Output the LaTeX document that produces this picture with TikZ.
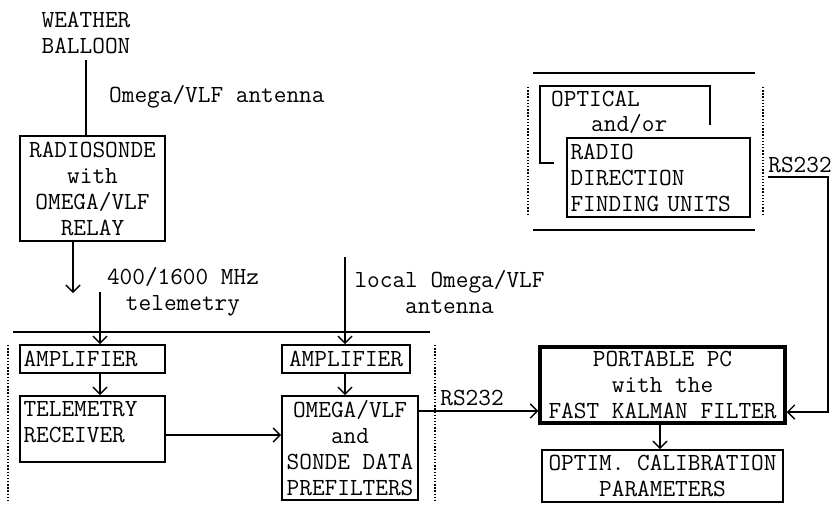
\documentclass[tikz,border=0pt]{standalone}
\usepackage{fontspec}
\usetikzlibrary{arrows.meta,positioning}

\begin{document}
\begin{tikzpicture}[x=0.02cm,y=-0.02cm,>={Straight Barb[length=4pt,width=8pt]},
 font=\ttfamily\fontsize{14}{14.8}\selectfont,
 box/.style={draw,line width=1pt,inner sep=2pt,align=center},
 lbox/.style={box,align=left},
 sep/.style={line width=0.8pt},
 dots/.style={densely dotted,line width=0.8pt}]
\useasboundingbox (0,0) rectangle (837,511);
% sonde side
\node[align=center] (balloon) at (86,33) {WEATHER\\BALLOON};
\node[box,minimum width=2.9cm,minimum height=2.1cm] (sonde) at (92.5,188.5) {RADIOSONDE\\with\\OMEGA/VLF\\RELAY};
\node[anchor=west] (antlbl) at (103,97) {Omega/VLF antenna};
\node[align=center] (tlmlbl) at (183,292) {400/1600 MHz\\telemetry};
\node[align=center] (loclbl) at (449.5,292) {local Omega/VLF\\antenna};
% ground station
\node[lbox,text width=2.76cm,minimum height=0.56cm] (amp1) at (92.5,359) {AMPLIFIER};
\node[lbox,text width=2.76cm,minimum height=1.32cm] (telrx) at (92.5,429) {TELEMETRY\\RECEIVER\\[-7pt]\mbox{}};
\node[box,minimum width=2.56cm,minimum height=0.56cm] (amp2) at (346,359) {AMPLIFIER};
\node[box,minimum width=2.72cm,minimum height=2.08cm] (prefilt) at (350,448) {OMEGA/VLF\\and\\SONDE DATA\\PREFILTERS};
\node[box,line width=2pt,minimum width=4.9cm,minimum height=1.52cm] (pc) at (662.5,385) {PORTABLE PC\\with the\\FAST KALMAN FILTER};
\node[box,minimum width=4.82cm,minimum height=1.04cm] (optim) at (662.5,476) {OPTIM. CALIBRATION\\PARAMETERS};
% direction finding
\node[lbox,text width=3.52cm,minimum height=1.58cm] (radio) at (658.5,177.5) {RADIO\\DIRECTION\\FINDING UNITS};
\node[anchor=base west] (optlbl) at (545,106) {OPTICAL};
\node[anchor=base west] (andor) at (585,131) {and/or};
\node[anchor=base west,inner sep=0pt] (rstop) at (768,172) {RS232};
\node[anchor=base west,inner sep=0pt] (rsbot) at (440,405) {RS232};
\coordinate (tlmtip) at (73,293);
\coordinate (tlmin) at (100,292);
\coordinate (locant) at (345,257);
\coordinate (dfout) at (768,177);
\coordinate (dfcorner) at (828,177);
% frames
\draw[sep] (13,332) -- (430,332);
\draw[dots] (8,345) -- (8,500); \draw[dots] (435,345) -- (435,500);
\draw[sep] (533,73) -- (755,73); \draw[sep] (533,230) -- (755,230);
\draw[dots] (528,87) -- (528,215); \draw[dots] (763,87) -- (763,215);
\draw[line width=1pt] (554,163) -- (540,163) -- (540,86) -- (710,86) -- (710,125);
% connections
\draw[sep] (balloon.south) -- (balloon.south |- sonde.north);
\draw[sep,->] (sonde.south -| tlmtip) -- (tlmtip);
\draw[sep,->] (tlmin) -- (tlmin |- amp1.north);
\draw[sep,->] (amp1.south -| tlmin) -- (telrx.north -| tlmin);
\draw[sep,->] (locant) -- (locant |- amp2.north);
\draw[sep,->] (amp2.south -| locant) -- (prefilt.north -| locant);
\draw[sep,->] ([yshift=-0.12cm]telrx.east) -- ([yshift=-0.12cm]telrx.east -| prefilt.west);
\draw[sep,->] (prefilt.east |- 0,411) -- (pc.west |- 0,411);
\draw[sep,->] (pc.south -| 660,0) -- (optim.north -| 660,0);
\draw[sep,->] (dfout) -- (dfcorner) -- (dfcorner |- 0,412) -- (pc.east |- 0,412);
\end{tikzpicture}
\end{document}
